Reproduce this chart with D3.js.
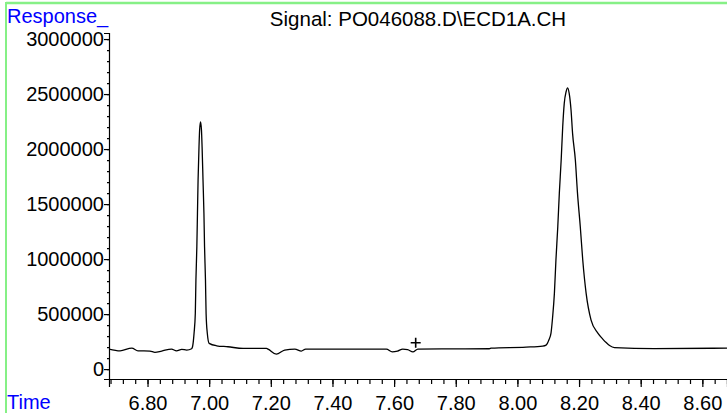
<!DOCTYPE html>
<html>
<head>
<meta charset="utf-8">
<script src="https://cdn.jsdelivr.net/npm/d3@7"></script>
<style>
  body { margin: 0; background: #fff; }
  svg { display: block; font-family: "Liberation Sans", Arial, sans-serif; }
</style>
</head>
<body>
<div id="chart"></div>
<script>
//////////////////////////////////////////////////////////////
////////////////////// Chart data ////////////////////////////
//////////////////////////////////////////////////////////////

var chartTitle = "Signal: PO046088.D\\ECD1A.CH";

//Retention time (min) of the traced points
var times = [6.675, 6.711, 6.749, 6.769, 6.808, 6.824, 6.846, 6.878, 6.894, 6.911, 6.927, 6.943,
	6.946, 6.951, 6.955, 6.957, 6.960, 6.962, 6.964, 6.967, 6.969, 6.972,
	6.975, 6.977, 6.980, 6.983, 6.985, 6.988, 6.990, 6.994, 7.000, 7.024, 7.061, 7.110,
	7.186, 7.191, 7.218, 7.245, 7.278, 7.299, 7.313, 7.575, 7.594, 7.611, 7.628, 7.644,
	7.661, 7.677, 7.909, 7.915, 8.028, 8.082, 8.093,
	8.102, 8.109, 8.114, 8.120, 8.125, 8.131, 8.136, 8.142, 8.147, 8.152, 8.158, 8.163,
	8.168, 8.174, 8.179, 8.188, 8.195, 8.204, 8.212, 8.223, 8.239, 8.261, 8.277, 8.288,
	8.299, 8.315, 8.444, 8.680];

//Detector response at those times
var responses = [182000, 166000, 191000, 166000, 164000, 152000, 164000, 182000, 166000, 179000, 173000, 185000,
	203000, 327000, 506000, 809000, 1112000, 1415000, 1718000, 2021000, 2173000, 2248000,
	2173000, 2021000, 1718000, 1415000, 1112000, 809000, 506000, 324000, 234000, 212000, 203000, 188000,
	188000, 182000, 136000, 173000, 182000, 164000, 182000, 182000, 157000, 164000, 182000, 177000,
	157000, 182000, 185000, 191000, 200000, 209000, 218000,
	264000, 327000, 464000, 688000, 991000, 1294000, 1597000, 1900000, 2203000, 2415000, 2521000, 2557000,
	2506000, 2355000, 2143000, 1900000, 1597000, 1294000, 991000, 688000, 445000, 327000, 273000, 241000,
	214000, 195000, 186000, 191000];

//Integration marker
var markerTime = 7.670,
	markerResponse = 239000;

var xTickValues = [6.8, 7.0, 7.2, 7.4, 7.6, 7.8, 8.0, 8.2, 8.4, 8.6],
	xTickLabels = ["6.80", "7.00", "7.20", "7.40", "7.60", "7.80", "8.00", "8.20", "8.40", "8.60"],
	yTickValues = [0, 500000, 1000000, 1500000, 2000000, 2500000, 3000000],
	yTickLabels = ["0", "500000", "1000000", "1500000", "2000000", "2500000", "3000000"];

//////////////////////////////////////////////////////////////
////////////////////// Set up the SVG ////////////////////////
//////////////////////////////////////////////////////////////

var width = 727,
	height = 413,
	plotLeft = 109,
	plotRight = 727,
	plotTop = 33,
	plotBottom = 379,
	fontSize = "20px",
	frameColor = "#86f086",
	labelColor = "#0000ff";

var svg = d3.select("#chart").append("svg")
	.attr("width", width)
	.attr("height", height);

var x = d3.scaleLinear()
	.domain([6.675, 8.68])
	.range([plotLeft, plotRight]);

var y = d3.scaleLinear()
	.domain([-90000, 3055000])
	.range([plotBottom, plotTop]);

//Green frame along the top and left edge
svg.append("line")
	.attr("x1", 6).attr("x2", width)
	.attr("y1", 3).attr("y2", 3)
	.style("stroke", frameColor)
	.style("stroke-width", 2.5);
svg.append("line")
	.attr("x1", 6).attr("x2", 6)
	.attr("y1", 2).attr("y2", height)
	.style("stroke", frameColor)
	.style("stroke-width", 2);

//////////////////////////////////////////////////////////////
///////////////////////// Axes ///////////////////////////////
//////////////////////////////////////////////////////////////

//Minor ticks first, the major axis draws over them
svg.append("g")
	.attr("transform", "translate(0," + plotBottom + ")")
	.call(d3.axisBottom(x)
		.tickValues(d3.range(0, 51).map(function(i) { return 6.68 + i * 0.04; }).filter(function(d) { return d <= 8.681; }))
		.tickSize(5)
		.tickFormat(""))
	.call(function(g) { g.select(".domain").remove(); });

var xAxis = svg.append("g")
	.attr("transform", "translate(0," + plotBottom + ")")
	.call(d3.axisBottom(x)
		.tickValues(xTickValues)
		.tickSizeOuter(0)
		.tickSize(8)
		.tickPadding(9)
		.tickFormat(function(d, i) { return xTickLabels[i]; }));

svg.append("g")
	.attr("transform", "translate(" + plotLeft + ",0)")
	.call(d3.axisLeft(y)
		.tickValues(d3.range(0, 31).map(function(i) { return i * 100000; }))
		.tickSize(2)
		.tickFormat(""))
	.call(function(g) { g.select(".domain").remove(); });

var yAxis = svg.append("g")
	.attr("transform", "translate(" + plotLeft + ",0)")
	.call(d3.axisLeft(y)
		.tickValues(yTickValues)
		.tickSizeOuter(0)
		.tickSize(5)
		.tickPadding(0)
		.tickFormat(function(d, i) { return yTickLabels[i]; }));

svg.selectAll(".tick text")
	.style("font-size", fontSize)
	.style("font-family", "'Liberation Sans', Arial, sans-serif")
	.attr("fill", "#000");
svg.selectAll(".domain, .tick line")
	.style("stroke", "#000")
	.style("stroke-width", 1.2);

//////////////////////////////////////////////////////////////
/////////////////////// Signal trace /////////////////////////
//////////////////////////////////////////////////////////////

var line = d3.line()
	.curve(d3.curveMonotoneX)
	.x(function(d) { return x(times[d]); })
	.y(function(d) { return y(responses[d]); });

svg.append("path")
	.datum(d3.range(times.length))
	.attr("d", line)
	.style("fill", "none")
	.style("stroke", "#000")
	.style("stroke-width", 1.3)
	.style("stroke-linejoin", "round");

//The little plus sign
var mx = x(markerTime),
	my = y(markerResponse);
svg.append("path")
	.attr("d", "M" + (mx - 5) + "," + my + "H" + (mx + 5) + "M" + mx + "," + (my - 5) + "V" + (my + 5))
	.style("stroke", "#000")
	.style("stroke-width", 1.6);

//////////////////////////////////////////////////////////////
///////////////////////// Labels /////////////////////////////
//////////////////////////////////////////////////////////////

svg.append("text")
	.attr("x", 418)
	.attr("y", 26)
	.style("text-anchor", "middle")
	.style("font-size", "20.5px")
	.attr("fill", "#000")
	.text(chartTitle);

svg.append("text")
	.attr("x", 7)
	.attr("y", 23)
	.style("font-size", fontSize)
	.attr("fill", labelColor)
	.text("Response_");

svg.append("text")
	.attr("x", 7)
	.attr("y", 409)
	.style("font-size", fontSize)
	.attr("fill", labelColor)
	.text("Time");
</script>
</body>
</html>
